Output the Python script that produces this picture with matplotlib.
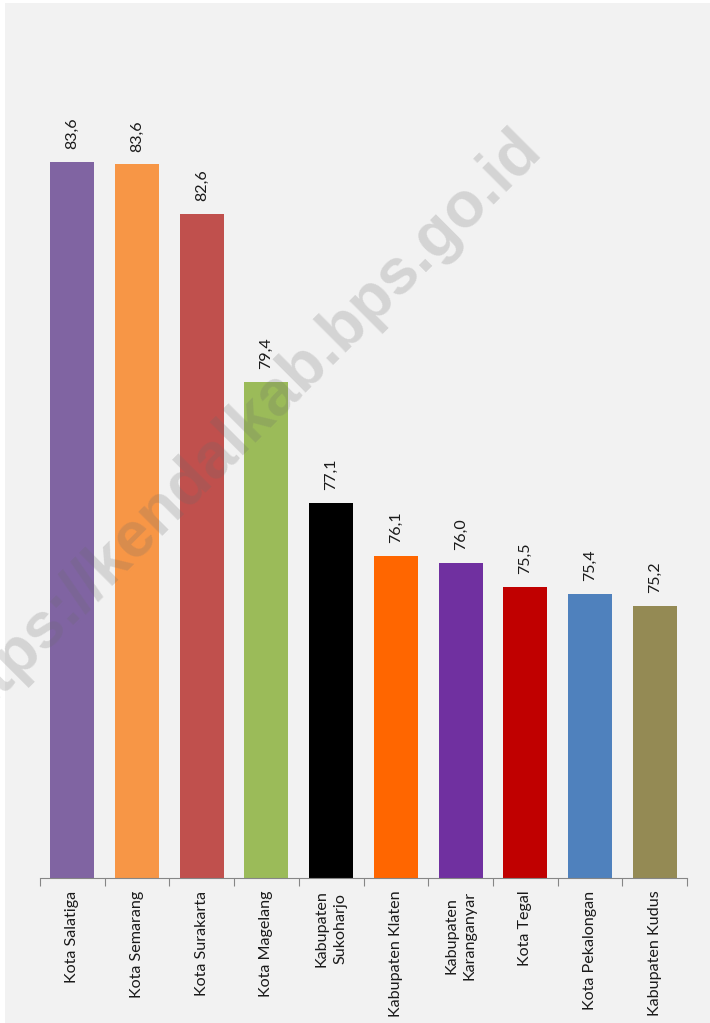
import matplotlib.pyplot as plt
from matplotlib.patches import Rectangle

regions = [
    "Kota Salatiga",
    "Kota Semarang",
    "Kota Surakarta",
    "Kota Magelang",
    "Kabupaten\nSukoharjo",
    "Kabupaten Klaten",
    "Kabupaten\nKaranganyar",
    "Kota Tegal",
    "Kota Pekalongan",
    "Kabupaten Kudus",
]
values = [83.61, 83.56, 82.62, 79.43, 77.13, 76.12, 75.99, 75.53, 75.40, 75.17]
colors = ["#8064A2", "#F79646", "#C0504D", "#9BBB59", "#000000",
          "#FF6600", "#7030A0", "#C00000", "#4F81BD", "#948A54"]

W, H = 710, 1023
plt.rcParams["font.family"] = ["Lato", "DejaVu Sans"]

fig = plt.figure(figsize=(W / 100, H / 100), dpi=100, facecolor="white")
fig.patches.append(Rectangle((5 / W, 0), 1 - 5 / W, 1 - 3 / H, transform=fig.transFigure,
                             facecolor="#F2F2F2", edgecolor="none", zorder=-10))

ax = fig.add_axes([40 / W, (H - 878) / H, (687 - 40) / W, (878 - 36) / H])
ax.set_facecolor("none")

x = list(range(len(values)))
ax.bar(x, values, width=0.68, color=colors, zorder=2)
ax.set_xlim(-0.5, len(values) - 0.5)
ax.set_ylim(70, 86)

for xi, v in zip(x, values):
    ax.annotate(f"{v:.1f}".replace(".", ","), (xi, v), xytext=(0, 9), textcoords="offset points",
                rotation=90, ha="center", va="bottom", fontsize=11.5, color="#1a1a1a")

for side in ["left", "right", "top"]:
    ax.spines[side].set_visible(False)
ax.spines["bottom"].set_color("#868686")
ax.set_yticks([])

ax.set_xticks([i - 0.5 for i in range(len(values) + 1)])
ax.set_xticklabels([])
ax.tick_params(axis="x", which="major", length=6, color="#868686", direction="out")
ax.set_xticks(x, minor=True)
ax.set_xticklabels(regions, minor=True, rotation=90, fontsize=11.6, color="#1a1a1a",
                   multialignment="center", linespacing=1.4)
ax.tick_params(axis="x", which="minor", length=0, pad=9)

# watermark
fig.text(543 / W, (H - 151) / H, "https://kendalkab.bps.go.id", rotation=45,
         rotation_mode="anchor", ha="right", va="baseline", fontsize=46,
         fontweight="bold", family="Liberation Sans", color=(0.42, 0.42, 0.42),
         alpha=0.22, zorder=5)

fig.savefig("out.png", dpi=100, facecolor=fig.get_facecolor())
